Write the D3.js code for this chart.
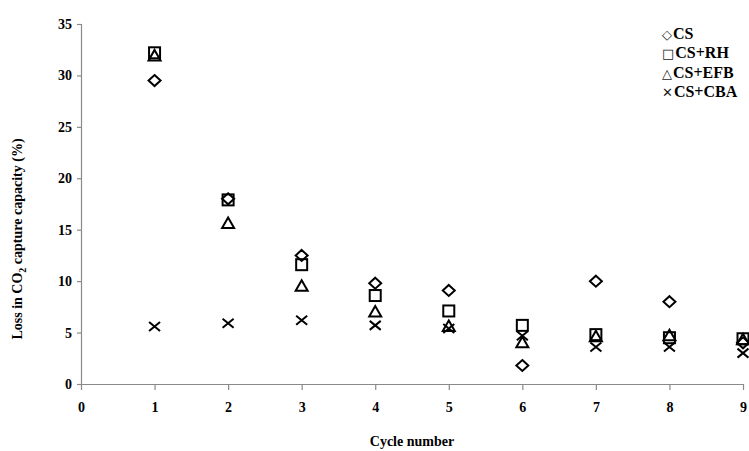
<!DOCTYPE html>
<html><head><meta charset="utf-8">
<script src="https://cdn.jsdelivr.net/npm/d3@7"></script>
<style>body{margin:0;background:#fff}svg{display:block}text{font-family:"Liberation Serif","Times New Roman",serif;font-weight:bold;fill:#000}</style>
</head><body><svg id="c" width="749" height="451"></svg>
<script>
const cycles = [1,2,3,4,5,6,7,8,9];
const seriesNames = ["CS","CS+RH","CS+EFB","CS+CBA"];
const csValues  = [29.5,18.0,12.5,9.8,9.1,1.8,10.0,8.0,4.0];
const rhValues  = [32.2,17.9,11.6,8.6,7.1,5.7,4.8,4.5,4.4];
const efbValues = [31.9,15.6,9.5,7.0,5.6,4.0,4.6,4.7,4.3];
const cbaValues = [5.6,5.9,6.2,5.7,5.4,4.7,3.6,3.6,3.0];
const xTicks = [0,1,2,3,4,5,6,7,8,9];
const yTicks = [0,5,10,15,20,25,30,35];

const svg = d3.select("#c");
const x = d3.scaleLinear().domain([0,9]).range([81,743]);
const y = d3.scaleLinear().domain([0,35]).range([384,24]);
const axisColor = "#8a8a8a";

// axes
const gx = svg.append("g").attr("transform","translate(0,384)")
  .call(d3.axisBottom(x).tickValues(xTicks).tickSize(6).tickPadding(12).tickFormat(d3.format("d")));
const gy = svg.append("g").attr("transform","translate(81,0)")
  .call(d3.axisLeft(y).tickValues(yTicks).tickSize(4).tickPadding(5).tickFormat(d3.format("d")));
[gx,gy].forEach(g=>{
  g.select(".domain").attr("stroke",axisColor).attr("stroke-width",1.2);
  g.selectAll(".tick line").attr("stroke",axisColor).attr("stroke-width",1.2);
  g.selectAll(".tick text").style("font-family",'"Liberation Serif","Times New Roman",serif').style("font-weight","bold").style("font-size","14px").attr("fill","#000");
});
gx.select(".domain").attr("d","M81,0.5H743");
gy.select(".domain").attr("d","M0.5,24V384");

// axis titles
svg.append("text").attr("x",x(4.5)).attr("y",446).attr("text-anchor","middle").style("font-size","14px").text("Cycle number");
const yl = svg.append("text").attr("transform","translate(22,239) rotate(-90)").attr("text-anchor","middle").style("font-size","14px");
yl.append("tspan").text("Loss in CO");
yl.append("tspan").attr("dy",4).style("font-size","10px").text("2");
yl.append("tspan").attr("dy",-4).text(" capture capacity (%)");

// marker shapes
function marker(g, type){
  const s = "#000", w = 2;
  if(type===0) g.append("path").attr("d","M0,-5.5L6,0L0,5.5L-6,0Z").attr("fill","none").attr("stroke",s).attr("stroke-width",w);
  else if(type===1) g.append("rect").attr("x",-5.5).attr("y",-5.5).attr("width",11).attr("height",11).attr("fill","none").attr("stroke",s).attr("stroke-width",w);
  else if(type===2) g.append("path").attr("d","M0,-6L6,4.5L-6,4.5Z").attr("fill","none").attr("stroke",s).attr("stroke-width",w).attr("stroke-linejoin","miter");
  else g.append("path").attr("d","M-5.5,-4.5L5.5,4.5M-5.5,4.5L5.5,-4.5").attr("stroke",s).attr("stroke-width",w);
}
const allSeries = [csValues, rhValues, efbValues, cbaValues];
[3,2,0,1].forEach(si=>{
  svg.append("g").selectAll("g").data(allSeries[si].map((v,i)=>({c:cycles[i],v})))
    .join("g").attr("transform",d=>`translate(${x(d.c)},${y(d.v)})`)
    .each(function(){ marker(d3.select(this), si); });
});

// legend
const lgSym = ["\u25C7","\u25A1","\u25B3","\u2715"];
const lg = svg.append("g");
seriesNames.forEach((n,i)=>{
  const t = lg.append("text").attr("x",662).attr("y",39+i*19.3).style("font-size","16px");
  t.append("tspan").style("font-weight","normal").style("font-family",'"DejaVu Sans",sans-serif').style("font-size","13px").attr("fill","#222").text(lgSym[i]);
  t.append("tspan").attr("dx",1).text(n);
});
</script></body></html>
